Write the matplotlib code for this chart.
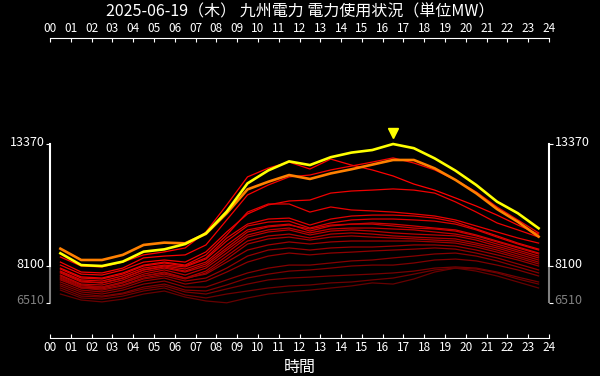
import matplotlib
matplotlib.use('Agg')
import matplotlib.pyplot as plt
import matplotlib.transforms as mtransforms

plt.rcParams['font.family'] = ['Noto Sans CJK JP', 'DejaVu Sans']

title = '2025-06-19（木） 九州電力 電力使用状況（単位MW）'
hours = [h + 0.5 for h in range(24)]
hour_labels = ['%02d' % h for h in range(25)]

# today (yellow) and yesterday (orange)
today = [8650, 8140, 8100, 8290, 8720, 8820, 9050, 9510, 10450, 11670, 12230, 12620,
         12460, 12800, 13000, 13110, 13370, 13190, 12750, 12220, 11600, 10880, 10380, 9730]
yesterday = [8850, 8360, 8360, 8580, 9010, 9110, 9080, 9490, 10380, 11410, 11740, 12030,
             11860, 12100, 12280, 12480, 12680, 12680, 12320, 11820, 11240, 10560, 10010, 9370]

# earlier days of the month, high to low
past_days = [
    [8490, 8100, 8060, 8270, 8580, 8710, 8880, 9570, 10740, 11950, 12330, 12590,
     12290, 12720, 12460, 12250, 11990, 11640, 11380, 11040, 10690, 10300, 9870, 9480],
    [8270, 7840, 7800, 8010, 8450, 8530, 8580, 9010, 10090, 11170, 11600, 11950,
     12030, 12250, 12420, 12590, 12770, 12550, 12250, 11820, 11300, 10650, 10090, 9530],
    [8140, 7750, 7710, 7930, 8270, 8360, 8270, 8710, 9570, 10350, 10740, 10910,
     10950, 11250, 11340, 11380, 11430, 11380, 11250, 10870, 10430, 9960, 9660, 9350],
    [8010, 7630, 7580, 7800, 8140, 8270, 8140, 8580, 9440, 10430, 10780, 10780,
     10430, 10650, 10520, 10480, 10430, 10350, 10260, 10090, 9830, 9570, 9310, 9090],
    [7970, 7580, 7540, 7750, 8100, 8230, 8100, 8450, 9310, 9910, 10130, 10170,
     9870, 10130, 10260, 10300, 10300, 10260, 10170, 10000, 9700, 9400, 9090, 8830],
    [7880, 7500, 7450, 7670, 8010, 8140, 8060, 8400, 9180, 9830, 10000, 10040,
     9740, 9960, 10090, 10130, 10130, 10090, 10040, 9910, 9660, 9350, 9050, 8790],
    [7840, 7450, 7370, 7580, 7930, 8100, 7970, 8270, 9010, 9660, 9830, 9910,
     9610, 9830, 9910, 9960, 9910, 9830, 9740, 9660, 9440, 9180, 8920, 8660],
    [7800, 7410, 7370, 7580, 7930, 8060, 7880, 8190, 8880, 9570, 9790, 9870,
     9700, 9870, 9910, 9910, 9830, 9740, 9700, 9610, 9400, 9140, 8880, 8620],
    [7710, 7320, 7280, 7500, 7840, 8010, 7840, 8100, 8790, 9440, 9660, 9740,
     9530, 9700, 9740, 9740, 9700, 9660, 9570, 9480, 9310, 9050, 8790, 8530],
    [7670, 7280, 7190, 7410, 7750, 7930, 7710, 8010, 8660, 9350, 9570, 9660,
     9440, 9610, 9660, 9610, 9530, 9480, 9440, 9400, 9220, 8960, 8710, 8450],
    [7580, 7190, 7150, 7370, 7670, 7840, 7580, 7880, 8530, 9180, 9400, 9480,
     9310, 9480, 9530, 9480, 9400, 9350, 9310, 9270, 9090, 8880, 8620, 8360],
    [7500, 7150, 7110, 7280, 7580, 7750, 7540, 7800, 8400, 9050, 9270, 9350,
     9220, 9350, 9400, 9350, 9310, 9270, 9220, 9180, 9010, 8790, 8530, 8270],
    [7620, 7240, 7190, 7370, 7670, 7800, 7580, 7750, 8270, 8790, 9010, 9140,
     9050, 9140, 9180, 9180, 9180, 9180, 9140, 9090, 8920, 8700, 8450, 8190],
    [7540, 7150, 7060, 7240, 7540, 7670, 7450, 7580, 8010, 8530, 8790, 8880,
     8790, 8880, 8920, 8920, 8960, 9010, 9010, 8960, 8790, 8580, 8360, 8100],
    [7410, 7060, 6980, 7150, 7450, 7580, 7320, 7450, 7840, 8270, 8530, 8660,
     8580, 8660, 8700, 8750, 8790, 8830, 8880, 8830, 8660, 8450, 8190, 7930],
    [7320, 6980, 6890, 7060, 7320, 7450, 7190, 7190, 7500, 7800, 8010, 8140,
     8140, 8230, 8320, 8360, 8450, 8530, 8620, 8660, 8530, 8320, 8060, 7800],
    [7240, 6890, 6800, 6930, 7190, 7320, 7060, 7020, 7280, 7580, 7750, 7880,
     7930, 8010, 8100, 8140, 8140, 8230, 8360, 8400, 8320, 8140, 7930, 7670],
    [7150, 6800, 6760, 6890, 7110, 7240, 6980, 6890, 7110, 7320, 7500, 7580,
     7620, 7670, 7710, 7750, 7800, 7880, 8010, 8060, 8010, 7840, 7620, 7410],
    [7060, 6720, 6670, 6800, 7020, 7150, 6850, 6720, 6890, 7020, 7150, 7240,
     7280, 7370, 7410, 7500, 7580, 7750, 7930, 8010, 7970, 7800, 7540, 7320],
    [6890, 6630, 6550, 6670, 6890, 7020, 6760, 6590, 6510, 6720, 6890, 6980,
     7060, 7150, 7240, 7370, 7320, 7540, 7840, 8010, 7880, 7670, 7410, 7150],
]

today_max = max(today)
today_min = min(today)
all_min = min(min(d) for d in past_days + [today, yesterday])
peak_hour = hours[today.index(today_max)]

fig = plt.figure(figsize=(6, 3.76), dpi=100, facecolor='black')
ax = fig.add_axes([50 / 600, 38 / 376, 499 / 600, 300 / 376], facecolor='black')

# older / lower days get darker red
n = len(past_days)
for i, day in enumerate(past_days):
    shade = 1.0 - 0.6 * i / (n - 1)
    ax.plot(hours, day, color=(shade, 0, 0), lw=0.9)

ax.plot(hours, yesterday, color='#ff8000', lw=1.9)
ax.plot(hours, today, color='#ffff00', lw=1.9)

# peak marker above today's max
trans = mtransforms.offset_copy(ax.transData, fig=fig, y=8, units='points')
ax.plot([peak_hour], [today_max], marker='v', color='#ffff00', markersize=7,
        transform=trans, clip_on=False)

ax.set_xlim(0, 24)
ax.set_ylim(4990, 17950)

ax.set_xticks(range(25))
ax.set_xticklabels(hour_labels)
ax.tick_params(axis='x', colors='white', labelcolor='white', direction='in',
               length=3, top=True, labeltop=True, labelsize=8.5, pad=2)

ax.set_yticks([all_min, today_min, today_max])
ax.set_yticklabels([str(all_min), str(today_min), str(today_max)])
ax.tick_params(axis='y', colors='white', labelcolor='white', direction='out',
               length=3, left=True, right=True, labelleft=True, labelright=True,
               labelsize=9, pad=1)

# y labels sit a little above their ticks, the lowest one in gray
lift = mtransforms.ScaledTranslation(0, 3.5 / 100, fig.dpi_scale_trans)
for i, t in enumerate(ax.yaxis.get_major_ticks()):
    t.label1.set_transform(t.label1.get_transform() + lift)
    t.label2.set_transform(t.label2.get_transform() + lift)
    if i == 0:
        for part in (t.tick1line, t.tick2line, t.label1, t.label2):
            part.set_color('gray')

for side in ['top', 'bottom']:
    ax.spines[side].set_color('white')
for side in ['left', 'right']:
    ax.spines[side].set_color('white')
    ax.spines[side].set_linewidth(1.5)
    ax.spines[side].set_bounds(today_min, today_max)

ax.vlines([0, 24], all_min, today_min, color='gray', lw=1.5, clip_on=False)

ax.set_xlabel('時間', color='white', fontsize=11.5, labelpad=4)
fig.text(0.5, 1 - 12 / 376, title, color='white', fontsize=11.5, ha='center', va='center')

fig.savefig('out.png', dpi=100, facecolor='black')
